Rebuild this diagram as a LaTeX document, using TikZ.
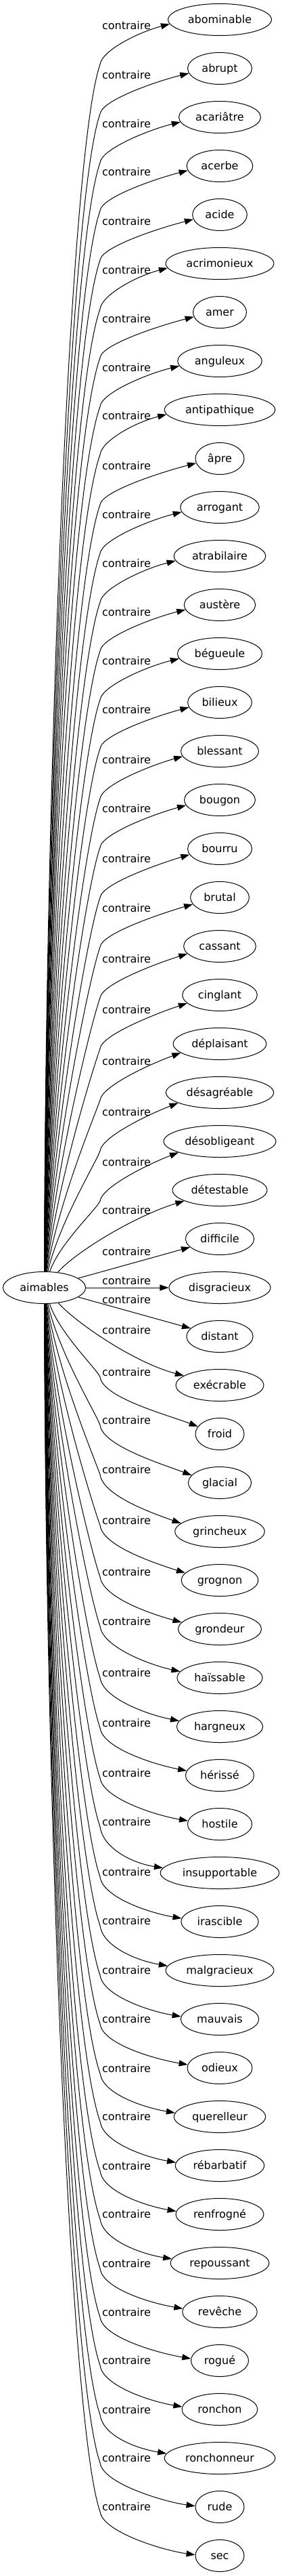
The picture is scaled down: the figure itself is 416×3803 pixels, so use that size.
\documentclass[tikz,border=0pt]{standalone}
\usepackage{fontspec}
\setmainfont{DejaVu Sans}
\usetikzlibrary{arrows.meta,shapes.geometric}
\newdimen\mywx
\begin{document}
\begin{tikzpicture}[x=1pt,y=-1pt,
  tnode/.style={draw,ellipse,line width=1pt,minimum width=72pt,minimum height=47pt,inner xsep=7pt,inner ysep=2pt,text height=12pt,text depth=1pt,font=\fontsize{16}{19}\selectfont,text=black},
  lab/.style={inner sep=0pt,text height=12pt,text depth=1pt,font=\fontsize{16}{19}\selectfont,text=black},
  conn/.style={line width=1pt,-{Triangle[length=13pt,width=9pt]}}]
\useasboundingbox (0,0) rectangle (416,3803);
\node[tnode] (aim) at (65.5,1901) {aimables};
\foreach \ii/\word in {0/abominable,1/abrupt,2/acariâtre,3/acerbe,4/acide,5/acrimonieux,6/amer,7/anguleux,8/antipathique,9/âpre,10/arrogant,11/atrabilaire,12/austère,13/bégueule,14/bilieux,15/blessant,16/bougon,17/bourru,18/brutal,19/cassant,20/cinglant,21/déplaisant,22/désagréable,23/désobligeant,24/détestable,25/difficile,26/disgracieux,27/distant,28/exécrable,29/froid,30/glacial,31/grincheux,32/grognon,33/grondeur,34/haïssable,35/hargneux,36/hérissé,37/hostile,38/insupportable,39/irascible,40/malgracieux,41/mauvais,42/odieux,43/querelleur,44/rébarbatif,45/renfrogné,46/repoussant,47/revêche,48/rogué,49/ronchon,50/ronchonneur,51/rude,52/sec}
  {\node[tnode] (t\ii) at (325,{29+72*\ii}) {\word};}
\foreach \ii/\ly in {0/37,1/110,2/182,3/253,4/326,5/398,6/470,7/542,8/613,9/687,10/759,11/831,12/903,13/975,14/1047,15/1121,16/1193,17/1267,18/1340,19/1415,20/1490,21/1566,22/1641,23/1715,24/1786,25/1847,26/1890,27/1918,28/1963,29/2025,30/2096,31/2169,32/2244,33/2320,34/2393,35/2469,36/2543,37/2617,38/2689,39/2763,40/2835,41/2908,42/2980,43/3053,44/3124,45/3197,46/3268,47/3341,48/3413,49/3484,50/3557,51/3628,52/3700}
  {\node[lab] (c\ii) at (187,{\ly+1}) {contraire};}
% upper edges
\foreach \ii/\ly/\dyy/\rise in {0/37/7/12,1/110/7/12,2/182/7/12,3/253/7/12,4/326/7/12,5/398/7/12,6/470/7/12,7/542/7/12,8/613/7/12,9/687/7/12,10/759/7/12,11/831/7/12,12/903/7/12,13/975/7/12,14/1047/7/13,15/1121/8/13,16/1193/8/13,17/1267/9/14,18/1340/10/14,19/1415/11/15,20/1490/12/16,21/1566/13/18,22/1641/15/19,23/1715/16/19}{
  \pgfmathsetmacro{\myyc}{29+72*\ii}
  \pgfmathsetmacro{\myby}{\ly+58}
  \pgfmathsetmacro{\myhh}{1878-\myby}
  \pgfmathsetmacro{\mye}{min(0.1*\myhh,130)}
  \pgfmathsetmacro{\myxs}{67+0.9*\ii}
  \pgfmathsetmacro{\mycay}{1878-0.4*\myhh}
  \pgfmathsetmacro{\mycbx}{148-0.35*\mye}
  \pgfmathsetmacro{\mycby}{\myby+\mye}
  \pgfmathsetmacro{\myccy}{\myby-20}
  \pgfextractx{\mywx}{\pgfpointanchor{t\ii}{west}}
  \pgfmathsetmacro{\myrx}{325-\mywx}
  \pgfmathsetmacro{\mytx}{325-\myrx*sqrt(1-(\dyy/23.5)^2)}
  \pgfmathsetmacro{\myty}{\myyc+\dyy}
  \pgfmathtruncatemacro{\myta}{round(180+atan(\dyy/(325-\mytx)))}
  \draw[conn] (aim) .. controls (\myxs,\mycay) and (\mycbx,\mycby) .. (148,\myby) .. controls (150.5,\myccy) and ({\mytx-48},{\myty+\rise}) .. (t\ii.\myta);
}
% middle edges
\draw[conn] (aim) .. controls (112,1848) and (200,1795) .. (t24);
\draw[conn] (aim) -- (t25);
\draw[conn] (aim) -- (t26);
\draw[conn] (aim) -- (t27);
\draw[conn] (aim) .. controls (115,1955) and (200,2012) .. (t28);
% lower edges
\foreach \ii/\ly/\dyy/\rise in {29/2025/-11/18,30/2096/-11/18,31/2169/-12/17,32/2244/-11/15,33/2320/-10/13,34/2393/-9/11,35/2469/-8/10,36/2543/-7/9,37/2617/-5/8,38/2689/-7/8,39/2763/-5/8,40/2835/-7/8,41/2908/-4/8,42/2980/-5/8,43/3053/-6/8,44/3124/-5/8,45/3197/-5/8,46/3268/-6/8,47/3341/-5/8,48/3413/-3/8,49/3484/-4/8,50/3557/-7/8,51/3628/-1/7,52/3700/-1/7}{
  \pgfmathsetmacro{\myyc}{29+72*\ii}
  \pgfmathsetmacro{\myby}{\ly+8}
  \pgfmathsetmacro{\myhh}{\myby-1925}
  \pgfmathsetmacro{\mye}{min(0.1*\myhh,130)}
  \pgfmathsetmacro{\myxs}{67+0.9*(52-\ii)}
  \pgfmathsetmacro{\mycay}{1925+0.4*\myhh}
  \pgfmathsetmacro{\mycbx}{148-0.35*\mye}
  \pgfmathsetmacro{\mycby}{\myby-\mye}
  \pgfmathsetmacro{\myccy}{\myby+30}
  \pgfextractx{\mywx}{\pgfpointanchor{t\ii}{west}}
  \pgfmathsetmacro{\myrx}{325-\mywx}
  \pgfmathsetmacro{\mytx}{325-\myrx*sqrt(1-(\dyy/23.5)^2)}
  \pgfmathsetmacro{\myty}{\myyc+\dyy}
  \pgfmathtruncatemacro{\myta}{round(180+atan(\dyy/(325-\mytx)))}
  \draw[conn] (aim) .. controls (\myxs,\mycay) and (\mycbx,\mycby) .. (148,\myby) .. controls (152,\myccy) and ({\mytx-48},{\myty-\rise}) .. (t\ii.\myta);
}
\end{tikzpicture}
\end{document}
